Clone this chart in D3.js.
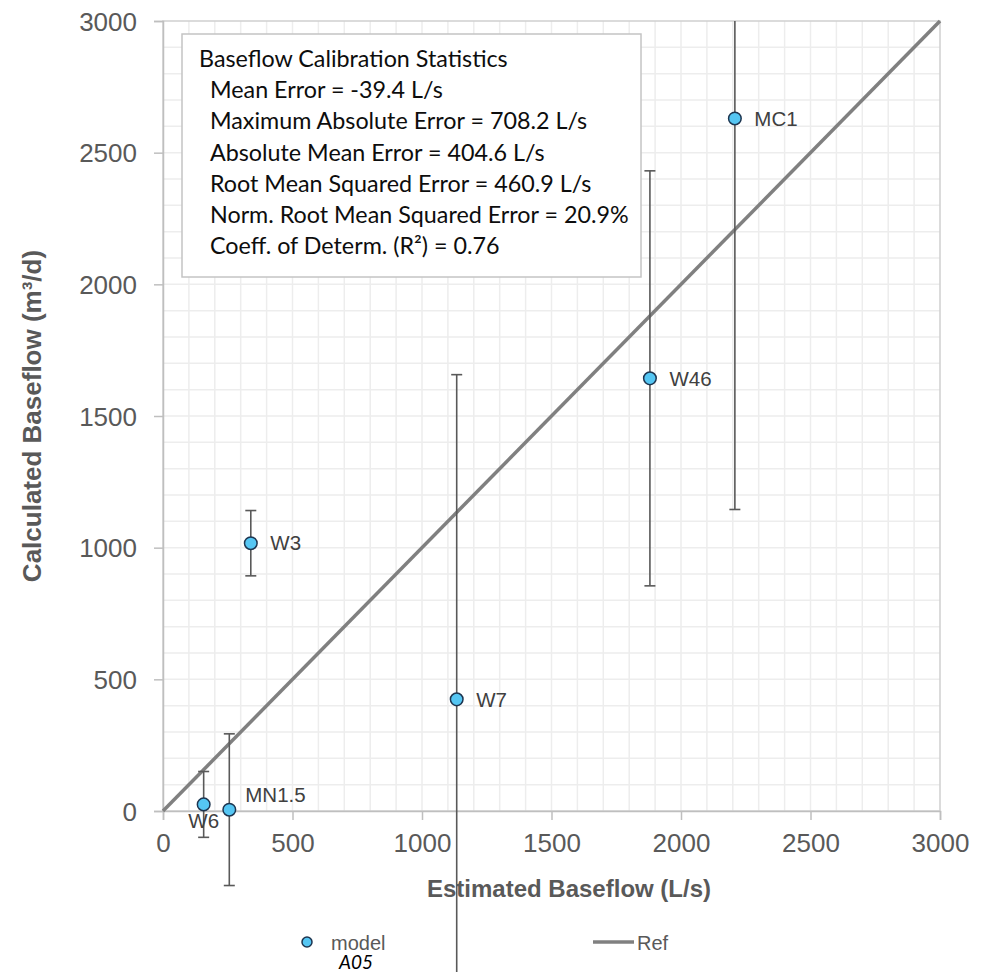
<!DOCTYPE html>
<html>
<head>
<meta charset="utf-8">
<script src="https://cdn.jsdelivr.net/npm/d3@7"></script>
<style>
  html, body { margin: 0; padding: 0; background: #fff; }
  svg { display: block; }
</style>
</head>
<body>
<svg id="chart" width="993" height="972"></svg>
<script>
// ---------------- data ----------------
const sites      = ["W6", "MN1.5", "W3", "W7", "W46", "MC1"];
const estimated  = [157, 256, 339, 1134, 1880, 2208];   // L/s
const calculated = [25, 5, 1017, 424, 1643, 2630];      // m3/d
const errorBar   = [125, 288, 124, 1233, 788, 1485];    // +/- error
const refLine    = [0, 3000];
const xTicks     = [0, 500, 1000, 1500, 2000, 2500, 3000];
const yTicks     = [0, 500, 1000, 1500, 2000, 2500, 3000];
const statsTitle = "Baseflow Calibration Statistics";
const statsLines = [
  "Mean Error = -39.4 L/s",
  "Maximum Absolute Error = 708.2 L/s",
  "Absolute Mean Error = 404.6 L/s",
  "Root Mean Squared Error = 460.9 L/s",
  "Norm. Root Mean Squared Error = 20.9%",
  "Coeff. of Determ. (R\u00B2) = 0.76"
];
const xTitle = "Estimated Baseflow (L/s)";
const yTitle = "Calculated Baseflow (m\u00B3/d)";
const legendModel = "model";
const legendRef = "Ref";
const legendSub = "A05";

// label placement (style, not data)
const labelPlacement = { "W6": "below", "MN1.5": "aboveRight" };

// ---------------- layout ----------------
const svg = d3.select("#chart");
const L = 163, R = 940, T = 21, B = 811;
const x = d3.scaleLinear().domain([0, 3000]).range([L, R]);
const y = d3.scaleLinear().domain([0, 3000]).range([B, T]);
const gray = "#595959";
const tickFont = "'Liberation Sans', Arial, sans-serif";

// grid (minor every 100)
const grid = svg.append("g");
const gridVals = d3.range(100, 3000, 100);
grid.selectAll("line.vx").data(gridVals).join("line")
  .attr("x1", d => x(d)).attr("x2", d => x(d)).attr("y1", T).attr("y2", B)
  .attr("stroke", "#ededed").attr("stroke-width", 1.5);
grid.selectAll("line.hy").data(gridVals).join("line")
  .attr("y1", d => y(d)).attr("y2", d => y(d)).attr("x1", L).attr("x2", R)
  .attr("stroke", "#ededed").attr("stroke-width", 1.5);

// plot border
svg.append("rect").attr("x", L).attr("y", T).attr("width", R - L).attr("height", B - T)
  .attr("fill", "none").attr("stroke", "#cfcfcf").attr("stroke-width", 1.5);

// axes
const xAxis = d3.axisBottom(x).tickValues(xTicks).tickSize(9).tickPadding(14).tickFormat(d3.format("d"));
const yAxis = d3.axisLeft(y).tickValues(yTicks).tickSize(9).tickPadding(17).tickFormat(d3.format("d"));
const gx = svg.append("g").attr("transform", `translate(0,${B})`).call(xAxis);
const gy = svg.append("g").attr("transform", `translate(${L},0)`).call(yAxis);
[gx, gy].forEach(g => {
  g.select(".domain").attr("stroke", "#bfbfbf").attr("stroke-width", 1.5);
  g.selectAll(".tick line").attr("stroke", "#bfbfbf").attr("stroke-width", 1.5);
  g.selectAll(".tick text").attr("fill", gray).style("font-family", tickFont).style("font-size", "26px");
});
gy.selectAll(".tick text").attr("dy", "0.35em");

// stats box
const box = svg.append("g");
box.append("rect").attr("x", 182).attr("y", 34).attr("width", 459).attr("height", 243)
  .attr("fill", "#fff").attr("stroke", "#c4c4c4").attr("stroke-width", 1.5);
const statFont = "Lato, 'Open Sans', sans-serif";
box.append("text").attr("x", 199).attr("y", 67).text(statsTitle)
  .style("font-family", statFont).style("font-size", "23.3px").attr("fill", "#0d0d0d");
box.selectAll("text.s").data(statsLines).join("text").attr("class", "s")
  .attr("x", 210).attr("y", (d, i) => 67 + 31.2 * (i + 1)).text(d => d)
  .style("font-family", statFont).style("font-size", "23.3px").attr("fill", "#0d0d0d");

// reference line
svg.append("line")
  .attr("x1", x(refLine[0])).attr("y1", y(refLine[0]))
  .attr("x2", x(refLine[1])).attr("y2", y(refLine[1]))
  .attr("stroke", "#808080").attr("stroke-width", 3.5);

// error bars (clipped at the top of plot)
svg.append("clipPath").attr("id", "ebclip").append("rect")
  .attr("x", 0).attr("y", T).attr("width", 993).attr("height", 972 - T);
const pts = sites.map((s, i) => ({ s, x: estimated[i], y: calculated[i], e: errorBar[i] }));
const eb = svg.append("g").attr("clip-path", "url(#ebclip)");
eb.selectAll("line.v").data(pts).join("line")
  .attr("x1", d => x(d.x)).attr("x2", d => x(d.x))
  .attr("y1", d => y(d.y + d.e)).attr("y2", d => y(d.y - d.e))
  .attr("stroke", gray).attr("stroke-width", 1.6);
eb.selectAll("line.c1").data(pts).join("line")
  .attr("x1", d => x(d.x) - 5.5).attr("x2", d => x(d.x) + 5.5)
  .attr("y1", d => y(d.y + d.e)).attr("y2", d => y(d.y + d.e))
  .attr("stroke", gray).attr("stroke-width", 1.6);
eb.selectAll("line.c2").data(pts).join("line")
  .attr("x1", d => x(d.x) - 5.5).attr("x2", d => x(d.x) + 5.5)
  .attr("y1", d => y(d.y - d.e)).attr("y2", d => y(d.y - d.e))
  .attr("stroke", gray).attr("stroke-width", 1.6);

// points
svg.append("g").selectAll("circle").data(pts).join("circle")
  .attr("cx", d => x(d.x)).attr("cy", d => y(d.y)).attr("r", 6.3)
  .attr("fill", "#55c6f3").attr("stroke", "#1d3550").attr("stroke-width", 1.5);

// point labels
svg.append("g").selectAll("text").data(pts).join("text")
  .attr("x", d => {
    const p = labelPlacement[d.s];
    if (p === "below") return x(d.x);
    if (p === "aboveRight") return x(d.x) + 16;
    return x(d.x) + 19.5;
  })
  .attr("y", d => {
    const p = labelPlacement[d.s];
    if (p === "below") return y(d.y) + 24;
    if (p === "aboveRight") return y(d.y) - 8;
    return y(d.y) + 7.3;
  })
  .attr("text-anchor", d => labelPlacement[d.s] === "below" ? "middle" : "start")
  .text(d => d.s)
  .style("font-family", tickFont).style("font-size", "20.5px").attr("fill", "#404040");

// axis titles
svg.append("text").attr("x", 569).attr("y", 897).attr("text-anchor", "middle")
  .text(xTitle).style("font-family", tickFont).style("font-size", "24px")
  .style("font-weight", "bold").attr("fill", gray);
svg.append("text").attr("transform", `translate(41,${(T + B) / 2}) rotate(-90)`).attr("text-anchor", "middle")
  .text(yTitle).style("font-family", tickFont).style("font-size", "26px")
  .style("font-weight", "bold").attr("fill", gray);

// legend
const lg = svg.append("g");
lg.append("circle").attr("cx", 307).attr("cy", 942).attr("r", 5)
  .attr("fill", "#55c6f3").attr("stroke", "#1d3550").attr("stroke-width", 1.5);
lg.append("text").attr("x", 331).attr("y", 950).text(legendModel)
  .style("font-family", tickFont).style("font-size", "20px").attr("fill", gray);
lg.append("text").attr("x", 356).attr("y", 969).attr("text-anchor", "middle").text(legendSub)
  .style("font-family", statFont).style("font-size", "19px").style("font-style", "italic").attr("fill", "#000");
lg.append("line").attr("x1", 593).attr("x2", 634).attr("y1", 942).attr("y2", 942)
  .attr("stroke", "#808080").attr("stroke-width", 3.5);
lg.append("text").attr("x", 637).attr("y", 950).text(legendRef)
  .style("font-family", tickFont).style("font-size", "20px").attr("fill", gray);
</script>
</body>
</html>
